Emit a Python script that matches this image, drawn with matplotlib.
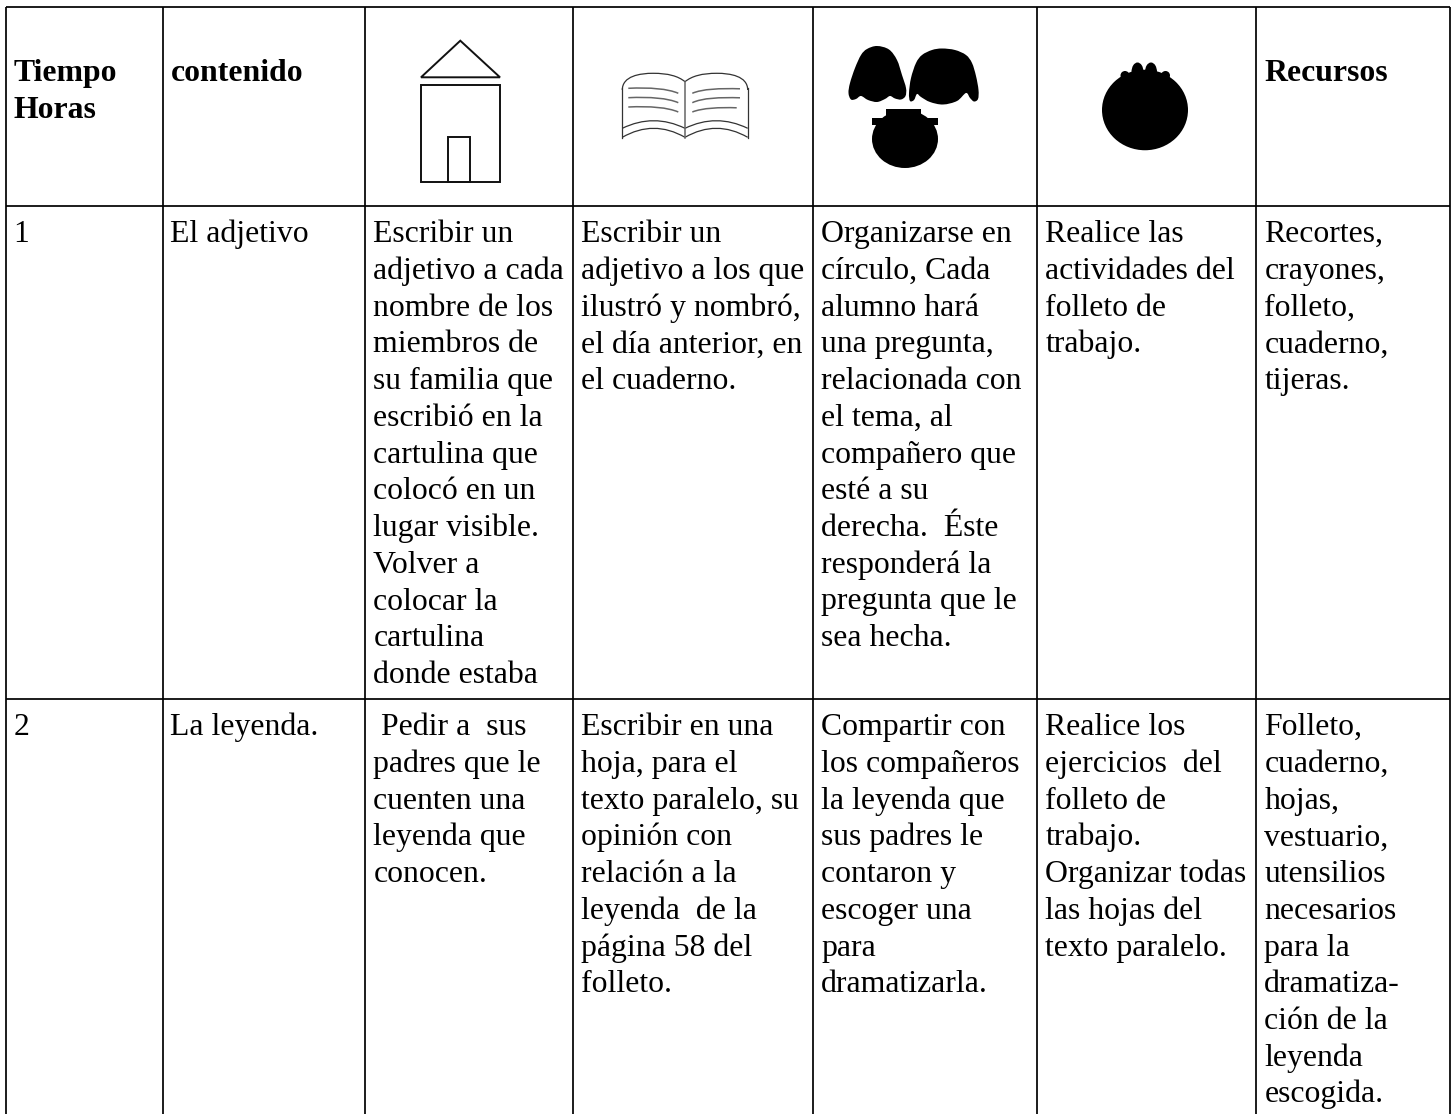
#%%
import matplotlib
matplotlib.use("Agg")
import matplotlib.pyplot as plt
from matplotlib.path import Path
from matplotlib.patches import PathPatch, Polygon, Rectangle, Ellipse

plt.rcParams['font.family'] = ['Liberation Serif', 'DejaVu Serif']

#%% Contenu du tableau

col_x = [5.7, 162.5, 365.3, 573.3, 813.3, 1037.3, 1256.3, 1450.3]
row_y = [7.3, 206.3, 699.3]
bottom = 1114

header_labels = {0: ["Tiempo", "Horas"], 1: ["contenido"], 6: ["Recursos"]}

row1 = [
    ["1"],
    ["El adjetivo"],
    ["Escribir un", "adjetivo a cada", "nombre de los", "miembros de", "su familia que",
     "escribió en la", "cartulina que", "colocó en un", "lugar visible.", "Volver a",
     "colocar la", "cartulina", "donde estaba"],
    ["Escribir un", "adjetivo a los que", "ilustró y nombró,", "el día anterior, en", "el cuaderno."],
    ["Organizarse en", "círculo, Cada", "alumno hará", "una pregunta,", "relacionada con",
     "el tema, al", "compañero que", "esté a su", "derecha.  Éste", "responderá la",
     "pregunta que le", "sea hecha."],
    ["Realice las", "actividades del", "folleto de", "trabajo."],
    ["Recortes,", "crayones,", "folleto,", "cuaderno,", "tijeras."],
]
row2 = [
    ["2"],
    ["La leyenda."],
    [" Pedir a  sus", "padres que le", "cuenten una", "leyenda que", "conocen."],
    ["Escribir en una", "hoja, para el", "texto paralelo, su", "opinión con", "relación a la",
     "leyenda  de la", "página 58 del", "folleto."],
    ["Compartir con", "los compañeros", "la leyenda que", "sus padres le", "contaron y",
     "escoger una", "para", "dramatizarla."],
    ["Realice los", "ejercicios  del", "folleto de", "trabajo.", "Organizar todas",
     "las hojas del", "texto paralelo."],
    ["Folleto,", "cuaderno,", "hojas,", "vestuario,", "utensilios", "necesarios", "para la",
     "dramatiza-", "ción de la", "leyenda", "escogida."],
]

# contours des icônes, en pixels de l'image
roof = [(460.3, 40.7), (421, 77.3), (500, 77.3)]
house_body = (421, 85, 78.7, 96.7)
house_door = (447.7, 136.7, 22.6, 45)

ear_left = [(877, 46), (889, 49.5), (897, 60), (902, 75), (906, 88), (905.5, 96), (901, 99.5), (895, 98.5),
            (890, 96), (885, 99), (877, 102), (868, 100), (861, 96), (856, 99), (851, 99.5), (848.5, 93),
            (850, 83), (855, 68), (861, 55), (867, 49)]
ear_right = [(942, 48.5), (955, 50), (966, 55), (972, 63), (976, 76), (978.5, 90), (978, 99), (974, 101.5),
             (970, 98), (966, 93), (957, 101), (943, 104.5), (930, 102), (921, 97), (917, 94), (914, 100),
             (910, 101), (909, 93), (911, 78), (916, 63), (922, 55), (932, 50)]
pot_body = (905, 139, 66, 58)
pot_brim = (872.3, 118, 65.8, 6.7)
pot_lid = (885.7, 108.7, 35.6, 10)
fruit_body = (1145, 110, 86, 80.5)
fruit_bumps = [(1125, 75.5, 9, 9), (1137.5, 72, 12, 19), (1151, 72, 12, 19), (1165.5, 75.5, 9, 9)]

book_top = [(622.3, 90), (622.3, 76), (640, 73.3), (653, 73.3), (668, 73.3), (678, 76), (685, 81.7),
            (692, 76), (702, 73.3), (717, 73.3), (730, 73.3), (747.7, 76), (747.7, 90)]
book_sides = [622.3, 747.7]
book_spine = 685
book_edges = [(128.3, 120.7), (137.3, 128.3)]
book_lines_y = [(88.3, 93.3), (97.7, 102.7), (107, 112)]
book_lines_r = [(93.3, 88.8, 740), (102.7, 97.8, 740), (112, 107.8, 736.7)]


def smooth(pts):
    # Catmull-Rom fermée, passe par tous les points
    n = len(pts)
    verts = [pts[0]]
    codes = [Path.MOVETO]
    for i in range(n):
        p0, p1, p2, p3 = pts[i - 1], pts[i], pts[(i + 1) % n], pts[(i + 2) % n]
        c1 = (p1[0] + (p2[0] - p0[0]) / 6, p1[1] + (p2[1] - p0[1]) / 6)
        c2 = (p2[0] - (p3[0] - p1[0]) / 6, p2[1] - (p3[1] - p1[1]) / 6)
        verts += [c1, c2, p2]
        codes += [Path.CURVE4] * 3
    return Path(verts, codes)


def arc(x0, y0, x1, y1, peak):
    # arc quadratique dont le sommet est à y=peak
    yc = 2 * peak - (y0 + y1) / 2
    return Path([(x0, y0), ((x0 + x1) / 2, yc), (x1, y1)], [Path.MOVETO, Path.CURVE3, Path.CURVE3])


#%% Figure

fig = plt.figure(figsize=(14.55, 11.14), dpi=100)
ax = fig.add_axes([0, 0, 1, 1])
ax.set_xlim(0, 1455)
ax.set_ylim(1114, 0)
ax.axis('off')

# grille
for x in col_x:
    ax.plot([x, x], [row_y[0], bottom], color='black', lw=1.25, solid_capstyle='butt')
for y in row_y:
    ax.plot([col_x[0], col_x[-1]], [y, y], color='black', lw=1.25, solid_capstyle='butt')

# textes
fs = 22.85
step = 36.72
text_dx = 8

for c, lines in header_labels.items():
    for i, t in enumerate(lines):
        ax.text(col_x[c] + text_dx, 81 + i * step, t, fontsize=fs, fontweight='bold',
                va='baseline', ha='left', color='#000000')

for rows, y0 in ((row1, 242.3), (row2, 735.2)):
    for c, lines in enumerate(rows):
        for i, t in enumerate(lines):
            ax.text(col_x[c] + text_dx, y0 + i * step, t, fontsize=fs,
                    va='baseline', ha='left', color='#000000')

# maison
ax.add_patch(Polygon(roof, closed=True, fill=False, ec='#111111', lw=1.4))
ax.add_patch(Rectangle(house_body[:2], house_body[2], house_body[3], fill=False, ec='#111111', lw=1.4))
ax.add_patch(Rectangle(house_door[:2], house_door[2], house_door[3], fill=False, ec='#111111', lw=1.4))

# livre
top_codes = [Path.MOVETO] + [Path.CURVE4] * (len(book_top) - 1)
ax.add_patch(PathPatch(Path(book_top, top_codes), fill=False, ec='#333333', lw=0.9))
for y_edge, peak in book_edges:
    ax.add_patch(PathPatch(arc(book_sides[0], y_edge, book_spine, y_edge, peak), fill=False, ec='#333333', lw=0.9))
    ax.add_patch(PathPatch(arc(book_spine, y_edge, book_sides[1], y_edge, peak), fill=False, ec='#333333', lw=0.9))
for x in book_sides:
    ax.plot([x, x], [88, 138], color='#333333', lw=0.9)
ax.plot([book_spine, book_spine], [81.7, 138], color='#666666', lw=1.1)
for y0, y1 in book_lines_y:
    p = Path([(628.3, y0), (650, y0 - 1), (668, y0 + 0.5), (678.3, y1)], [Path.MOVETO] + [Path.CURVE4] * 3)
    ax.add_patch(PathPatch(p, fill=False, ec='#666666', lw=1.1))
for y0, y1, xr in book_lines_r:
    p = Path([(692.3, y0), (702, y1 + 0.2), (720, y1 - 0.6), (xr, y1)], [Path.MOVETO] + [Path.CURVE4] * 3)
    ax.add_patch(PathPatch(p, fill=False, ec='#666666', lw=1.1))

# formes noires
for pts in (ear_left, ear_right):
    ax.add_patch(PathPatch(smooth(pts), fc='black', ec='none'))
ax.add_patch(Ellipse(pot_body[:2], pot_body[2], pot_body[3], fc='black', ec='none'))
ax.add_patch(Rectangle(pot_brim[:2], pot_brim[2], pot_brim[3], fc='black', ec='none'))
ax.add_patch(Rectangle(pot_lid[:2], pot_lid[2], pot_lid[3], fc='black', ec='none'))
ax.add_patch(Ellipse(fruit_body[:2], fruit_body[2], fruit_body[3], fc='black', ec='none'))
for bx, by, bw, bh in fruit_bumps:
    ax.add_patch(Ellipse((bx, by), bw, bh, fc='black', ec='none'))

plt.savefig("out.png", dpi=100)
